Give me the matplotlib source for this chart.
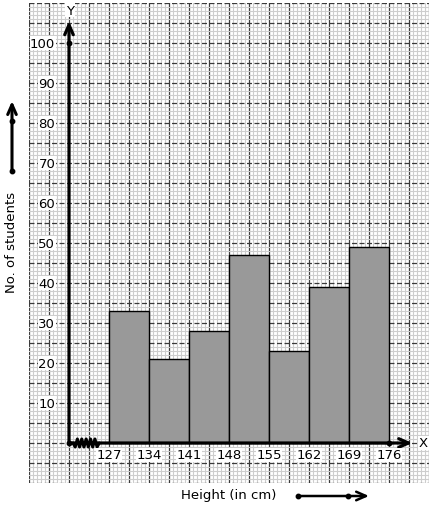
import numpy as np
import matplotlib
matplotlib.use("Agg")
import matplotlib.pyplot as plt

# ---- data ----
class_edges = [127, 134, 141, 148, 155, 162, 169, 176]
students = [33, 21, 28, 47, 23, 39, 49]
y_ticks = [10, 20, 30, 40, 50, 60, 70, 80, 90, 100]
x_tick_labels = ["127", "134", "141", "148", "155", "162", "169", "176"]
x_label = "Height (in cm)"
y_label = "No. of students"

W, H = 434, 510
fig = plt.figure(figsize=(W / 100, H / 100), dpi=100)
plt.rcParams['font.family'] = ['DejaVu Sans']
FS = 9.5

# graph-paper axes (pixel box 29..429 x 4..484)
ax = fig.add_axes([29 / W, (H - 484) / H, 400 / W, 480 / H])
x0, x1 = 113.0, 183.0
y0, y1 = -10.0, 110.0
ax.set_xlim(x0, x1)
ax.set_ylim(y0, y1)
for s in ax.spines.values():
    s.set_visible(False)
ax.set_xticks(np.arange(x0, x1 + 0.01, 3.5))
ax.set_xticks(np.arange(x0, x1 + 0.01, 0.7), minor=True)
ax.set_yticks(np.arange(y0, y1 + 0.01, 5))
ax.set_yticks(np.arange(y0, y1 + 0.01, 1), minor=True)
ax.tick_params(which='both', length=0, labelbottom=False, labelleft=False)
ax.grid(which='minor', color='#cdcdcd', lw=0.8)
ax.xaxis.grid(which='major', color='#3a3a3a', lw=0.9, ls='-')
ax.yaxis.grid(which='major', color='#3a3a3a', lw=0.9, ls=(0, (4, 2)))
ax.set_axisbelow(True)

# bars
ax.bar(class_edges[:-1], students, width=np.diff(class_edges), align='edge',
       color='#999999', edgecolor='black', lw=1.0, zorder=3)

origin_x, origin_y = 120.0, 0.0
# axes with arrows
arrow_kw = dict(arrowstyle='->,head_length=0.5,head_width=0.22', lw=2.3,
                color='black', mutation_scale=14, shrinkA=0, shrinkB=0)
ax.annotate('', xy=(origin_x, 105.5), xytext=(origin_x, origin_y),
            arrowprops=arrow_kw, zorder=5, annotation_clip=False)
ax.annotate('', xy=(180.1, origin_y), xytext=(origin_x, origin_y),
            arrowprops=arrow_kw, zorder=5, annotation_clip=False)
ax.text(origin_x + 0.15, 108.2, 'Y', ha='center', va='center', fontsize=FS,
        zorder=6, bbox=dict(facecolor='white', edgecolor='none', pad=0.5))
ax.text(182.0, origin_y, 'X', ha='center', va='center', fontsize=FS,
        zorder=6, bbox=dict(facecolor='white', edgecolor='none', pad=0.5))

# zigzag break on x axis
n_teeth = 12
zx = np.linspace(120.7, 125.3, n_teeth + 1)
zy = np.array([(-1) ** i for i in range(n_teeth + 1)], dtype=float) * 1.0
zy[0] = 0; zy[-1] = 0
ax.plot(zx, zy, color='black', lw=2.2, zorder=6, solid_joinstyle='round',
        solid_capstyle='round')

# dots
ax.plot([origin_x, origin_x, class_edges[-1]], [origin_y, 100, origin_y], 'o',
        color='black', ms=3.2, zorder=7)

# tick labels
for v in y_ticks:
    ax.text(117.6, v, str(v), ha='right', va='center', fontsize=FS, zorder=6,
            bbox=dict(facecolor='white', edgecolor='none', pad=0.3))
for v, lab in zip(class_edges, x_tick_labels):
    ax.text(v, -3.0, lab, ha='center', va='center', fontsize=FS, zorder=6,
            bbox=dict(facecolor='white', edgecolor='none', pad=0.3))

# overlay for outer labels and direction arrows (pixel coords)
ov = fig.add_axes([0, 0, 1, 1], facecolor='none')
ov.set_xlim(0, W)
ov.set_ylim(H, 0)
ov.axis('off')
ov.annotate('', xy=(12, 102), xytext=(12, 172),
            arrowprops=dict(arrowstyle='->,head_length=0.5,head_width=0.22',
                            lw=2.2, color='black', mutation_scale=14,
                            shrinkA=0, shrinkB=0))
ov.plot([12, 12], [172, 122], 'o', color='black', ms=3.2)
ov.text(12, 242, y_label, rotation=90, ha='center', va='center', fontsize=FS)
ov.annotate('', xy=(369, 497), xytext=(298, 497),
            arrowprops=dict(arrowstyle='->,head_length=0.5,head_width=0.22',
                            lw=1.8, color='black', mutation_scale=14,
                            shrinkA=0, shrinkB=0))
ov.plot([298, 348], [497, 497], 'o', color='black', ms=3.2)
ov.text(229, 496, x_label, ha='center', va='center', fontsize=FS)

fig.savefig('out.png', dpi=100)
